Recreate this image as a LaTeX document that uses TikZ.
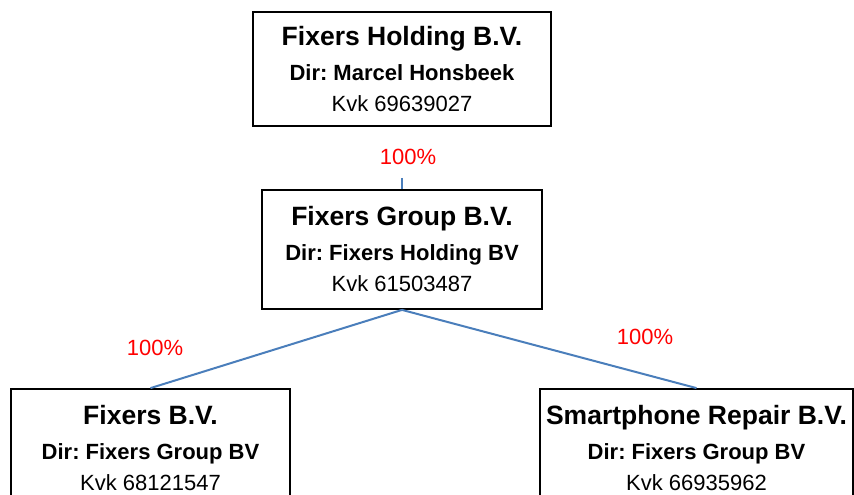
\documentclass[tikz,border=0pt]{standalone}
\usepackage{fontspec}
\setmainfont{Liberation Sans}
\frenchspacing
\definecolor{linkblue}{HTML}{4A7EBB}
\def\firmname#1{{\fontsize{26.5}{31}\selectfont\bfseries #1}\\[4pt]}
\def\link{\draw[linkblue,line width=2pt]}

\begin{document}
\begin{tikzpicture}[x=1pt,y=1pt,
    firm/.style={draw,line width=1.8pt,align=center,inner sep=0pt,
      font=\fontsize{22}{31}\selectfont},
    pct/.style={red,inner sep=0pt,font=\fontsize{22}{26}\selectfont}]
  \useasboundingbox (0,0) rectangle (854,495);
  \node[firm,minimum width=298,minimum height=114] (holding) at (402,426)
    {\firmname{Fixers Holding B.V.}\textbf{Dir: Marcel Honsbeek}\\ Kvk 69639027};
  \node[firm,minimum width=280,minimum height=119] (group) at (402,245.5)
    {\firmname{Fixers Group B.V.}\textbf{Dir: Fixers Holding BV}\\ Kvk 61503487};
  \node[firm,minimum width=279,minimum height=119] (fixers) at (150.5,46.5)
    {\firmname{Fixers B.V.}\textbf{Dir: Fixers Group BV}\\ Kvk 68121547};
  \node[firm,minimum width=313,minimum height=119] (smart) at (696.5,46.5)
    {\firmname{Smartphone Repair B.V.}\textbf{Dir: Fixers Group BV}\\ Kvk 66935962};
  % shares
  \coordinate (stub) at (402,317);
  \link (stub) -- (group.north);
  \link (group.south) -- (fixers.north);
  \link (group.south) -- (smart.north);
  \node[pct] (pcttop) at (408,338) {100\%};
  \node[pct] (pctleft) at (155,147) {100\%};
  \node[pct] (pctright) at (645,158) {100\%};
\end{tikzpicture}
\end{document}
